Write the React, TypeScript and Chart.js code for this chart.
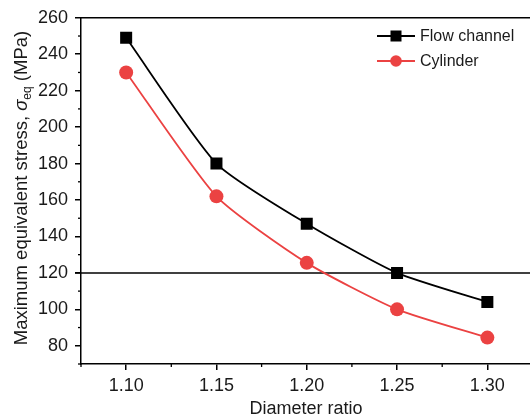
import React, { useEffect, useRef } from 'react';
import { Chart, registerables } from 'chart.js';

Chart.register(...registerables);

const diameterRatios = [1.1, 1.15, 1.2, 1.25, 1.3];
const flowChannel = [249, 180, 147, 120, 104];
const cylinder = [230, 162, 125.5, 100, 84.5];
const xMajorTicks = [1.1, 1.15, 1.2, 1.25, 1.3];
const xMinorTicks = [1.075, 1.125, 1.175, 1.225, 1.275];
const yMajorTicks = [80, 100, 120, 140, 160, 180, 200, 220, 240, 260];
const yMinorTicks = [70, 90, 110, 130, 150, 170, 190, 210, 230, 250];
const thresholdStress = 120;
const xLabel = 'Diameter ratio';
const seriesNames = ['Flow channel', 'Cylinder'];

const FONT = '"Liberation Sans", Arial, sans-serif';
const RED = '#EB4242';
const TEXT = '#1a1a1a';

const overlay = {
  id: 'overlay',
  beforeDatasetsDraw(chart: any) {
    const { ctx, chartArea, scales } = chart;
    const { left, right, top, bottom } = chartArea;
    const x = scales.x;
    const y = scales.y;
    ctx.save();
    ctx.strokeStyle = '#000';
    ctx.lineWidth = 1.5;
    const yy = y.getPixelForValue(thresholdStress);
    ctx.beginPath();
    ctx.moveTo(left - 6, yy);
    ctx.lineTo(chart.width, yy);
    ctx.stroke();
    ctx.beginPath();
    ctx.moveTo(left - 1, top);
    ctx.lineTo(right, top);
    ctx.stroke();
    ctx.lineWidth = 1.3;
    xMinorTicks.forEach((v) => {
      const px = x.getPixelForValue(v);
      ctx.beginPath();
      ctx.moveTo(px, bottom);
      ctx.lineTo(px, bottom + 3);
      ctx.stroke();
    });
    yMinorTicks.forEach((v) => {
      const py = y.getPixelForValue(v);
      ctx.beginPath();
      ctx.moveTo(left, py);
      ctx.lineTo(left - 3, py);
      ctx.stroke();
    });
    ctx.restore();
  },
  afterDraw(chart: any) {
    const { ctx } = chart;
    ctx.save();
    ctx.fillStyle = TEXT;
    ctx.font = `18px ${FONT}`;
    ctx.textAlign = 'center';
    ctx.textBaseline = 'alphabetic';
    ctx.fillText(xLabel, 306, 414);

    const parts = [
      { t: 'Maximum equivalent stress, ', f: `18.5px ${FONT}`, dy: 0 },
      { t: 'σ', f: `italic 18.5px ${FONT}`, dy: 0 },
      { t: 'eq', f: `12px ${FONT}`, dy: 4 },
      { t: ' (MPa)', f: `18.5px ${FONT}`, dy: 0 },
    ];
    let total = 0;
    const widths = parts.map((p) => {
      ctx.font = p.f;
      const w = ctx.measureText(p.t).width;
      total += w;
      return w;
    });
    ctx.translate(27, 188);
    ctx.rotate(-Math.PI / 2);
    ctx.textAlign = 'left';
    let cx = -total / 2;
    parts.forEach((p, i) => {
      ctx.font = p.f;
      ctx.fillText(p.t, cx, p.dy);
      cx += widths[i];
    });
    ctx.restore();

    ctx.save();
    const rows = [
      { name: seriesNames[0], color: '#000', style: 'rect', y: 36 },
      { name: seriesNames[1], color: RED, style: 'circle', y: 61 },
    ];
    rows.forEach((r) => {
      ctx.strokeStyle = r.color;
      ctx.fillStyle = r.color;
      ctx.lineWidth = 1.8;
      ctx.beginPath();
      ctx.moveTo(377, r.y);
      ctx.lineTo(415, r.y);
      ctx.stroke();
      if (r.style === 'rect') {
        ctx.fillRect(396 - 5.5, r.y - 5.5, 11, 11);
      } else {
        ctx.beginPath();
        ctx.arc(396, r.y, 5.8, 0, Math.PI * 2);
        ctx.fill();
      }
      ctx.fillStyle = TEXT;
      ctx.font = `16px ${FONT}`;
      ctx.textAlign = 'left';
      ctx.textBaseline = 'middle';
      ctx.fillText(r.name, 420, r.y + 1);
    });
    ctx.restore();
  },
};

export default function App() {
  const ref = useRef<HTMLCanvasElement | null>(null);
  useEffect(() => {
    document.body.style.margin = '0';
    const canvas = ref.current!;
    const chart = new Chart(canvas, {
      type: 'line',
      data: {
        datasets: [
          {
            label: seriesNames[0],
            data: diameterRatios.map((x, i) => ({ x, y: flowChannel[i] })),
            borderColor: '#000',
            backgroundColor: '#000',
            borderWidth: 1.8,
            pointStyle: 'rect',
            pointRadius: 8.5,
            pointHoverRadius: 8.5,
            pointBorderWidth: 0,
            tension: 0.2,
          },
          {
            label: seriesNames[1],
            data: diameterRatios.map((x, i) => ({ x, y: cylinder[i] })),
            borderColor: RED,
            backgroundColor: RED,
            borderWidth: 1.8,
            pointStyle: 'circle',
            pointRadius: 7,
            pointHoverRadius: 7,
            pointBorderWidth: 0,
            tension: 0.2,
          },
        ],
      },
      options: {
        animation: false,
        responsive: false,
        maintainAspectRatio: false,
        events: [],
        layout: { padding: { left: 0, top: 16, right: 12.5, bottom: 0 } },
        plugins: { legend: { display: false }, tooltip: { enabled: false } },
        scales: {
          x: {
            type: 'linear',
            min: 1.075,
            max: 1.325,
            afterBuildTicks: (s: any) => {
              s.ticks = xMajorTicks.map((v) => ({ value: v }));
            },
            afterFit: (s: any) => {
              s.height = 56;
            },
            ticks: {
              autoSkip: false,
              maxRotation: 0,
              padding: 5,
              color: TEXT,
              font: { family: FONT, size: 18 },
              callback: (v: any) => Number(v).toFixed(2),
            },
            grid: { drawOnChartArea: false, drawTicks: true, tickLength: 6, color: '#000', lineWidth: 1.5 },
            border: { color: '#000', width: 1.5 },
          },
          y: {
            type: 'linear',
            min: 70,
            max: 260,
            afterBuildTicks: (s: any) => {
              s.ticks = yMajorTicks.map((v) => ({ value: v }));
            },
            afterFit: (s: any) => {
              s.width = 81;
            },
            ticks: {
              autoSkip: false,
              padding: 7,
              color: TEXT,
              font: { family: FONT, size: 18 },
            },
            grid: { drawOnChartArea: false, drawTicks: true, tickLength: 6, color: '#000', lineWidth: 1.5 },
            border: { color: '#000', width: 1.5 },
          },
        },
      },
      plugins: [overlay],
    });
    return () => chart.destroy();
  }, []);
  return (
    <div style={{ position: 'absolute', left: 0, top: 0, width: 530, height: 420, overflow: 'hidden', background: '#fff' }}>
      <canvas ref={ref} width={545} height={420} style={{ width: 545, height: 420, display: 'block' }} />
    </div>
  );
}
